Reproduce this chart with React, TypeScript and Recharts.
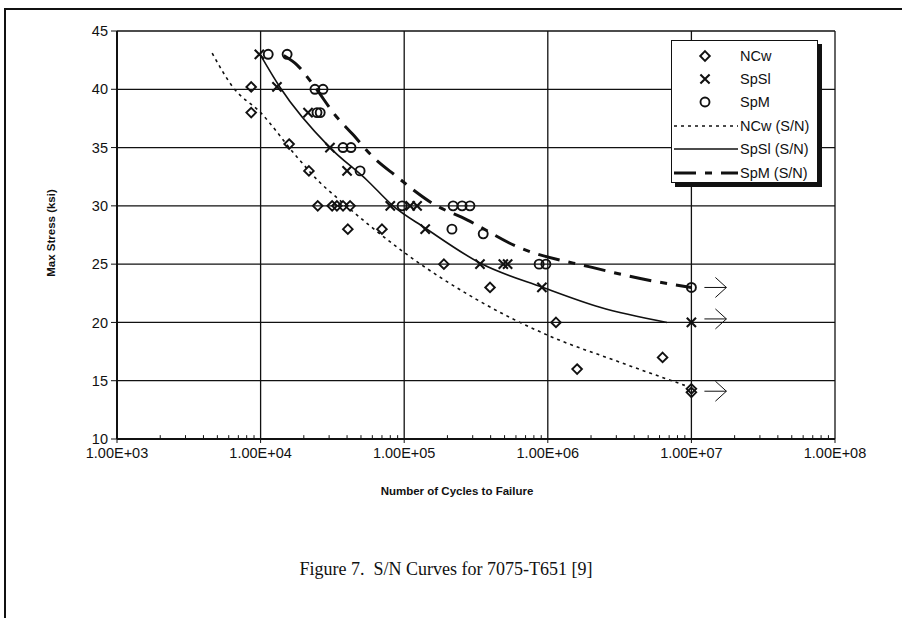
import React from 'react';
import {
  ScatterChart,
  Scatter,
  XAxis,
  YAxis,
  CartesianGrid,
  Legend,
  ReferenceLine,
  ReferenceDot
} from 'recharts';

// axis ticks
const xTicks = [1e3, 1e4, 1e5, 1e6, 1e7, 1e8];
const xTickLabels = ['1.00E+03', '1.00E+04', '1.00E+05', '1.00E+06', '1.00E+07', '1.00E+08'];
const yTicks = [10, 15, 20, 25, 30, 35, 40, 45];
const minorTicks = [
  2e3, 3e3, 4e3, 5e3, 6e3, 7e3, 8e3, 9e3,
  2e4, 3e4, 4e4, 5e4, 6e4, 7e4, 8e4, 9e4,
  2e5, 3e5, 4e5, 5e5, 6e5, 7e5, 8e5, 9e5,
  2e6, 3e6, 4e6, 5e6, 6e6, 7e6, 8e6, 9e6,
  2e7, 3e7, 4e7, 5e7, 6e7, 7e7, 8e7, 9e7
];

// test points (cycles, max stress ksi)
const ncwN = [8600, 8600, 15800, 21700, 25000, 31500, 34000, 37500, 42000, 40500, 70000, 189000, 396000, 1140000, 1600000, 6300000, 10000000, 10000000];
const ncwS = [40.2, 38, 35.3, 33, 30, 30, 30, 30, 30, 28, 28, 25, 23, 20, 16, 17, 14.3, 14.0];

const spslN = [9800, 13000, 21400, 30400, 40000, 80000, 110000, 123000, 140000, 337000, 490000, 525000, 910000, 10000000];
const spslS = [43, 40.2, 38, 35, 33, 30, 30, 30, 28, 25, 25, 25, 23, 20];

const spmN = [11300, 15300, 23900, 27200, 24700, 26000, 37500, 42600, 49300, 96700, 219000, 253000, 287000, 215000, 355000, 870000, 970000, 10000000];
const spmS = [43, 43, 40, 40, 38, 38, 35, 35, 33, 30, 30, 30, 30, 28, 27.6, 25, 25, 23];

// S/N trend curves
const ncwFitN = [4600, 6400, 10000, 17900, 25900, 34000, 100000, 316000, 1000000, 3160000, 9000000];
const ncwFitS = [43.1, 40.2, 38.0, 34.2, 32.0, 30.7, 26.0, 22.0, 18.9, 16.6, 14.6];

const spslFitN = [9800, 13600, 30400, 55100, 83600, 140000, 337000, 926000, 2310000, 6760000];
const spslFitS = [43.1, 40.2, 35.0, 32.2, 30.0, 28.1, 25.1, 23.0, 21.3, 20.0];

const spmFitN = [14500, 17900, 23200, 34000, 43300, 60600, 89000, 115000, 158000, 274000, 611000, 2070000, 5150000, 10000000];
const spmFitS = [42.9, 42.1, 40.4, 37.6, 36.2, 34.2, 32.5, 31.4, 30.2, 28.8, 26.5, 24.7, 23.6, 23.0];

// run-outs (arrows)
const runoutN = 10000000;
const runoutS = [23, 20.3, 14.1];

const seriesNames = ['NCw', 'SpSl', 'SpM'];
const fitNames = ['NCw (S/N)', 'SpSl (S/N)', 'SpM (S/N)'];

const INK = '#111';
const SANS = '"Liberation Sans", Arial, sans-serif';

const toPts = (n: number[], s: number[]) => n.map((v, i) => ({ n: v, s: s[i] }));

const ncw = toPts(ncwN, ncwS);
const spsl = toPts(spslN, spslS);
const spm = toPts(spmN, spmS);
const ncwFit = toPts(ncwFitN, ncwFitS);
const spslFit = toPts(spslFitN, spslFitS);
const spmFit = toPts(spmFitN, spmFitS);

const Diamond = ({ cx, cy }: any) => (
  <path
    d={`M${cx},${cy - 4.8} L${cx + 4.8},${cy} L${cx},${cy + 4.8} L${cx - 4.8},${cy} Z`}
    fill="none"
    stroke={INK}
    strokeWidth={1.9}
  />
);

const Cross = ({ cx, cy }: any) => (
  <path
    d={`M${cx - 4.6},${cy - 4.6} L${cx + 4.6},${cy + 4.6} M${cx + 4.6},${cy - 4.6} L${cx - 4.6},${cy + 4.6}`}
    stroke={INK}
    strokeWidth={2.1}
  />
);

const Ring = ({ cx, cy }: any) => (
  <circle cx={cx} cy={cy} r={4.5} fill="none" stroke={INK} strokeWidth={1.9} />
);

const NoDot = () => <g />;

const Arrow = ({ cx, cy }: any) => (
  <g stroke={INK} strokeWidth={1} fill="none">
    <line x1={cx + 13} y1={cy} x2={cx + 35} y2={cy} />
    <polyline points={`${cx + 24},${cy - 10} ${cx + 35},${cy} ${cx + 24},${cy + 10}`} />
  </g>
);

const LegendBox = () => {
  const rows = [15, 38, 61, 85, 108, 132];
  const marks = [Diamond, Cross, Ring];
  const dashes = ['3 4', undefined, '22 9 7 9'];
  const widths = [1.6, 1.6, 3];
  return (
    <div
      style={{
        width: 147,
        height: 143,
        border: `1.5px solid ${INK}`,
        boxShadow: `4px 4px 0 ${INK}`,
        background: '#fff',
        boxSizing: 'border-box'
      }}
    >
      <svg width={145} height={140} style={{ display: 'block' }}>
        {seriesNames.map((name, i) => {
          const M = marks[i];
          return (
            <g key={name}>
              <M cx={33} cy={rows[i]} />
              <text x={68} y={rows[i] + 5} fontFamily={SANS} fontSize={14.5} fill={INK}>
                {name}
              </text>
            </g>
          );
        })}
        {fitNames.map((name, i) => (
          <g key={name}>
            <line
              x1={2}
              x2={66}
              y1={rows[i + 3]}
              y2={rows[i + 3]}
              stroke={INK}
              strokeWidth={widths[i]}
              strokeDasharray={dashes[i]}
            />
            <text x={68} y={rows[i + 3] + 5} fontFamily={SANS} fontSize={14.5} fill={INK}>
              {name}
            </text>
          </g>
        ))}
      </svg>
    </div>
  );
};

const XTitle = ({ viewBox }: any) => (
  <text
    x={viewBox.x + viewBox.width / 2 - 19}
    y={viewBox.y + 56}
    textAnchor="middle"
    fontFamily={SANS}
    fontSize={11.5}
    fontWeight="bold"
    fill={INK}
  >
    Number of Cycles to Failure
  </text>
);

const YTitle = ({ viewBox }: any) => {
  const x = viewBox.x - 22;
  const y = viewBox.y + viewBox.height / 2 - 2;
  return (
    <text
      x={x}
      y={y}
      transform={`rotate(-90 ${x} ${y})`}
      textAnchor="middle"
      fontFamily={SANS}
      fontSize={11.5}
      fontWeight="bold"
      fill={INK}
    >
      Max Stress (ksi)
    </text>
  );
};

export default function App() {
  return (
    <div style={{ position: 'absolute', left: 0, top: 0, width: 902, height: 618, background: '#fff' }}>
      <div
        style={{
          position: 'absolute',
          left: 4,
          top: 8,
          width: 898,
          height: 610,
          borderTop: `2px solid ${INK}`,
          borderLeft: `2px solid ${INK}`,
          boxSizing: 'border-box'
        }}
      />
      <ScatterChart
        width={902}
        height={618}
        margin={{ top: 31, right: 67, bottom: 149, left: 77 }}
        style={{ position: 'absolute', left: 0, top: 0 }}
      >
        <CartesianGrid stroke={INK} strokeWidth={1.3} />
        <XAxis
          type="number"
          dataKey="n"
          scale="log"
          domain={[1e3, 1e8]}
          ticks={xTicks}
          interval={0}
          allowDataOverflow
          height={30}
          tickSize={4}
          tickMargin={5}
          tickFormatter={(v: number) => xTickLabels[xTicks.indexOf(v)] ?? ''}
          axisLine={{ stroke: INK, strokeWidth: 2 }}
          tickLine={{ stroke: INK }}
          tick={{ fill: INK, fontSize: 14.5, fontFamily: SANS }}
          label={{ content: XTitle }}
        />
        <YAxis
          type="number"
          dataKey="s"
          domain={[10, 45]}
          ticks={yTicks}
          interval={0}
          allowDataOverflow
          width={40}
          tickSize={6}
          tickMargin={3}
          axisLine={{ stroke: INK, strokeWidth: 2 }}
          tickLine={{ stroke: INK }}
          tick={{ fill: INK, fontSize: 14.5, fontFamily: SANS }}
          label={{ content: YTitle }}
        />
        {minorTicks.map((t) => (
          <ReferenceLine
            key={t}
            segment={[{ x: t, y: 10 }, { x: t, y: 10.33 }]}
            stroke={INK}
            strokeWidth={1}
          />
        ))}
        <Legend
          layout="vertical"
          align="center"
          verticalAlign="middle"
          content={LegendBox}
          wrapperStyle={{ position: 'absolute', left: 671, top: 40, width: 147, height: 143 }}
        />
        <Scatter
          name={fitNames[0]}
          data={ncwFit}
          line={{ stroke: INK, strokeWidth: 1.6, strokeDasharray: '3 4' }}
          lineJointType="monotoneX"
          shape={NoDot}
          isAnimationActive={false}
        />
        <Scatter
          name={fitNames[1]}
          data={spslFit}
          line={{ stroke: INK, strokeWidth: 1.6 }}
          lineJointType="monotoneX"
          shape={NoDot}
          isAnimationActive={false}
        />
        <Scatter
          name={fitNames[2]}
          data={spmFit}
          line={{ stroke: INK, strokeWidth: 3, strokeDasharray: '22 9 7 9' }}
          lineJointType="monotoneX"
          shape={NoDot}
          isAnimationActive={false}
        />
        <Scatter name={seriesNames[0]} data={ncw} shape={Diamond} isAnimationActive={false} />
        <Scatter name={seriesNames[1]} data={spsl} shape={Cross} isAnimationActive={false} />
        <Scatter name={seriesNames[2]} data={spm} shape={Ring} isAnimationActive={false} />
        {runoutS.map((s) => (
          <ReferenceDot key={s} x={runoutN} y={s} shape={Arrow} ifOverflow="visible" />
        ))}
      </ScatterChart>
      <div
        style={{
          position: 'absolute',
          left: 0,
          width: 892,
          top: 559,
          textAlign: 'center',
          fontFamily: '"Liberation Serif", "Times New Roman", serif',
          fontSize: 18,
          color: INK,
          whiteSpace: 'pre'
        }}
      >
        {'Figure 7.  S/N Curves for 7075-T651 [9]'}
      </div>
    </div>
  );
}
